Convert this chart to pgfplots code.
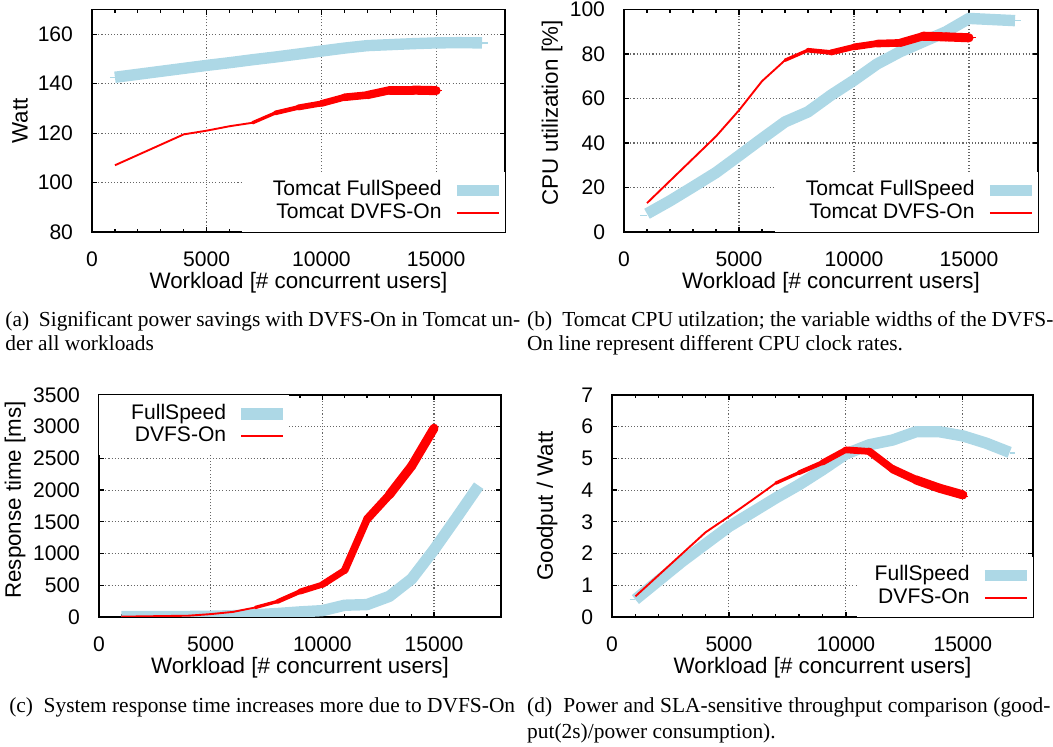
\documentclass[border=0pt]{standalone}
\usepackage{fontspec}
\setmainfont{Liberation Sans}
\newfontfamily\capfont{Liberation Serif}
\usepackage{pgfplots}
\pgfplotsset{compat=1.18}
\definecolor{fsblue}{HTML}{ADD8E6}
\definecolor{dvred}{HTML}{FF0000}

% one thicker piece of the DVFS-On line (width follows the clock rate)
\newcommand{\seg}[3]{\addplot[dvred, line width=#1, line cap=round, line join=round, forget plot] coordinates {#2 #3};}
\newcommand{\labfont}{\fontsize{10.6}{12}\selectfont}

\pgfplotsset{
  gp/.style={
    scale only axis, xmin=0, xmax=18000,
    xtick={0,5000,10000,15000}, minor x tick num=4,
    scaled x ticks=false, scaled y ticks=false,
    /pgf/number format/assume math mode=true,
    /pgf/number format/1000 sep={},
    tick align=inside,
    major tick length=0.09cm, minor tick length=0.05cm,
    axis line style={line width=0.7pt},
    every tick/.style={black, line width=0.6pt},
    xmajorgrids, ymajorgrids,
    grid style={line width=0.5pt, black!60, dash pattern=on 0.5pt off 1pt},
    xticklabel style={anchor=center, yshift=-0.45cm},
    yticklabel style={anchor=east, inner sep=0pt, xshift=-0.31cm},
    xlabel={\labfont Workload [\# concurrent users]},
    every axis x label/.style={at={(axis description cs:0.5,0)}, anchor=center, yshift=-0.85cm},
    legend plot pos=right, legend cell align=right,
    legend image code/.code={\draw[##1] (0cm,0cm) -- (0.7cm,0cm);},
    legend style={draw=none, fill=white, inner xsep=0pt, inner ysep=4pt,
      column sep=0.16cm, row sep=1pt,
      nodes={inner sep=0pt, text height=7.3pt, text depth=2.3pt}},
  },
  ylab/.style 2 args={every axis y label/.style={at={([xshift=-#1]axis description cs:0,#2)}, rotate=90, anchor=center}},
  fs/.style={fsblue, line width=5.4pt, line join=round},
  dv/.style={dvred, line width=0.9pt, line join=round},
  stubb/.style={fsblue, line width=0.6pt, forget plot},
  stubr/.style={dvred, line width=0.6pt, forget plot},
}

\begin{document}
\begin{tikzpicture}
\useasboundingbox (0,0) rectangle (17.55,12.45);

% (a) power
\begin{axis}[gp, at={(1.533cm,8.583cm)}, anchor=south west, width=6.883cm, height=3.708cm,
  ymin=80, ymax=170, ytick={80,100,...,160}, ylabel={\labfont Watt}, ylab={1.2cm}{0.5},
  legend style={at={(1,0)}, anchor=south east}]
\addplot[fs] coordinates {(1000,142.6)(2000,143.8)(3000,145)(4000,146.2)(5000,147.4)(6000,148.5)(7000,149.7)(8000,150.8)(9000,152)(10000,153.2)(11000,154.4)(12000,155.4)(13000,155.8)(14000,156.2)(15000,156.5)(16000,156.6)(17000,156.5)};
\addlegendentry{\hspace{0.52cm}Tomcat FullSpeed}
\addplot[dv] coordinates {(1000,107)(4000,119.5)(5000,121)(6000,122.8)(7000,124.2)(8000,128.2)(9000,130.4)(10000,132)(11000,134.5)(12000,135.4)(13000,137.4)(14000,137.4)(15000,137.2)};
\addlegendentry{Tomcat DVFS-On}
\seg{1.6pt}{(7000,124.2)}{(8000,128.2)}
\seg{2.2pt}{(8000,128.2)}{(9000,130.4)}
\seg{2.8pt}{(9000,130.4)}{(10000,132)}
\seg{3.2pt}{(10000,132)}{(11000,134.5)}
\seg{3.6pt}{(11000,134.5)}{(12000,135.4)}
\seg{3.9pt}{(12000,135.4)}{(13000,137.4)}
\seg{4.3pt}{(13000,137.4)}{(14000,137.4)}
\seg{4.3pt}{(14000,137.4)}{(15000,137.2)}
\addplot[stubb] coordinates {(780,142.6)(1000,142.6)};
\addplot[stubb] coordinates {(17000,156.5)(17250,156.5)};
\addplot[stubr] coordinates {(15000,137.2)(15250,137.2)};
\end{axis}

% (b) CPU utilization
\begin{axis}[gp, at={(10.4cm,8.583cm)}, anchor=south west, width=6.9cm, height=3.708cm,
  ymin=0, ymax=100, ytick={0,20,...,100}, ylabel={\labfont CPU utilization [\%]}, ylab={1.2cm}{0.534},
  legend style={at={(1,0)}, anchor=south east}]
\addplot[fs] coordinates {(1000,8.2)(2000,14)(3000,20.3)(4000,26.7)(5000,34.3)(6000,42)(7000,49.5)(8000,54)(9000,61.5)(10000,68.2)(11000,75.5)(12000,81)(13000,85.5)(14000,90)(15000,96)(16000,95.5)(17000,95)};
\addlegendentry{\hspace{0.52cm}Tomcat FullSpeed}
\addplot[dv] coordinates {(1000,13)(4000,43)(5000,54.7)(6000,67.8)(7000,77.2)(8000,81.7)(9000,80.7)(10000,83.2)(11000,84.7)(12000,85)(13000,88)(14000,87.7)(15000,87.3)};
\addlegendentry{Tomcat DVFS-On}
\seg{1.6pt}{(7000,77.2)}{(8000,81.7)}
\seg{2.2pt}{(8000,81.7)}{(9000,80.7)}
\seg{2.8pt}{(9000,80.7)}{(10000,83.2)}
\seg{3.2pt}{(10000,83.2)}{(11000,84.7)}
\seg{3.6pt}{(11000,84.7)}{(12000,85)}
\seg{3.9pt}{(12000,85)}{(13000,88)}
\seg{4.3pt}{(13000,88)}{(14000,87.7)}
\seg{4.3pt}{(14000,87.7)}{(15000,87.3)}
\addplot[stubb] coordinates {(700,7.5)(1000,7.5)};
\addplot[stubb] coordinates {(17000,95)(17250,95)};
\addplot[stubr] coordinates {(15000,87.3)(15300,87.3)};
\end{axis}

% (c) response time
\begin{axis}[gp, at={(1.65cm,2.167cm)}, anchor=south west, width=6.7cm, height=3.7cm,
  ymin=0, ymax=3500, ytick={0,500,...,3500}, ylabel={\labfont Response time [ms]}, ylab={1.4cm}{0.527},
  legend style={at={(0,1)}, anchor=north west}]
\addplot[fs] coordinates {(1000,5)(2000,5)(3000,5)(4000,8)(5000,12)(6000,20)(7000,35)(8000,55)(9000,80)(10000,100)(11000,185)(12000,195)(13000,325)(14000,600)(15000,1060)(16000,1560)(17000,2070)};
\addlegendentry{\hspace{0.53cm}FullSpeed}
\addplot[dv] coordinates {(1000,5)(4000,20)(5000,45)(6000,80)(7000,150)(8000,245)(9000,400)(10000,510)(11000,735)(12000,1540)(13000,1925)(14000,2380)(15000,2975)};
\addlegendentry{DVFS-On}
\seg{1.6pt}{(7000,150)}{(8000,245)}
\seg{2.2pt}{(8000,245)}{(9000,400)}
\seg{2.8pt}{(9000,400)}{(10000,510)}
\seg{3.2pt}{(10000,510)}{(11000,735)}
\seg{3.6pt}{(11000,735)}{(12000,1540)}
\seg{3.9pt}{(12000,1540)}{(13000,1925)}
\seg{4.3pt}{(13000,1925)}{(14000,2380)}
\seg{4.3pt}{(14000,2380)}{(15000,2975)}
\end{axis}

% (d) goodput per watt
\begin{axis}[gp, at={(10.2cm,2.167cm)}, anchor=south west, width=7.017cm, height=3.7cm,
  ymin=0, ymax=7, ytick={0,1,...,7}, ylabel={\labfont Goodput / Watt}, ylab={1.083cm}{0.5},
  legend style={at={(1,0)}, anchor=south east}]
\addplot[fs] coordinates {(1000,0.55)(2000,1.15)(3000,1.75)(4000,2.3)(5000,2.85)(6000,3.3)(7000,3.75)(8000,4.17)(9000,4.64)(10000,5.14)(11000,5.43)(12000,5.58)(13000,5.84)(14000,5.84)(15000,5.71)(16000,5.48)(17000,5.19)};
\addlegendentry{\hspace{0.3cm}FullSpeed}
\addplot[dv] coordinates {(1000,0.65)(4000,2.67)(5000,3.17)(6000,3.69)(7000,4.22)(8000,4.55)(9000,4.87)(10000,5.27)(11000,5.22)(12000,4.66)(13000,4.32)(14000,4.06)(15000,3.85)};
\addlegendentry{DVFS-On}
\seg{1.6pt}{(7000,4.22)}{(8000,4.55)}
\seg{2.2pt}{(8000,4.55)}{(9000,4.87)}
\seg{2.8pt}{(9000,4.87)}{(10000,5.27)}
\seg{3.2pt}{(10000,5.27)}{(11000,5.22)}
\seg{3.6pt}{(11000,5.22)}{(12000,4.66)}
\seg{3.9pt}{(12000,4.66)}{(13000,4.32)}
\seg{4.3pt}{(13000,4.32)}{(14000,4.06)}
\seg{4.3pt}{(14000,4.06)}{(15000,3.85)}
\addplot[stubb] coordinates {(750,0.55)(1000,0.55)};
\addplot[stubb] coordinates {(17000,5.17)(17250,5.17)};
\addplot[stubr] coordinates {(15000,3.8)(15200,3.8)};
\end{axis}

% sub-captions
\begin{scope}[every node/.style={inner sep=0pt, font=\capfont\fontsize{10.15}{10.5}\selectfont}]
\node[anchor=base west] at (0.083,7.0) {\makebox[8.58cm][s]{(a)\ \ Significant power savings with DVFS-On in Tomcat un-}};
\node[anchor=base west] at (0.083,6.6) {der all workloads};
\node[anchor=base west] at (8.78,7.0) {\makebox[8.77cm][s]{(b)\ \ Tomcat CPU utilzation; the variable widths of the DVFS-}};
\node[anchor=base west] at (8.78,6.6) {On line represent different CPU clock rates.};
\node[anchor=base] at (4.37,0.583) {(c)\ \ System response time increases more due to DVFS-On};
\node[anchor=base west] at (8.78,0.583) {\makebox[8.72cm][s]{(d)\ \ Power and SLA-sensitive throughput comparison (good-}};
\node[anchor=base west] at (8.78,0.14) {put(2s)/power consumption).};
\end{scope}
\end{tikzpicture}
\end{document}
